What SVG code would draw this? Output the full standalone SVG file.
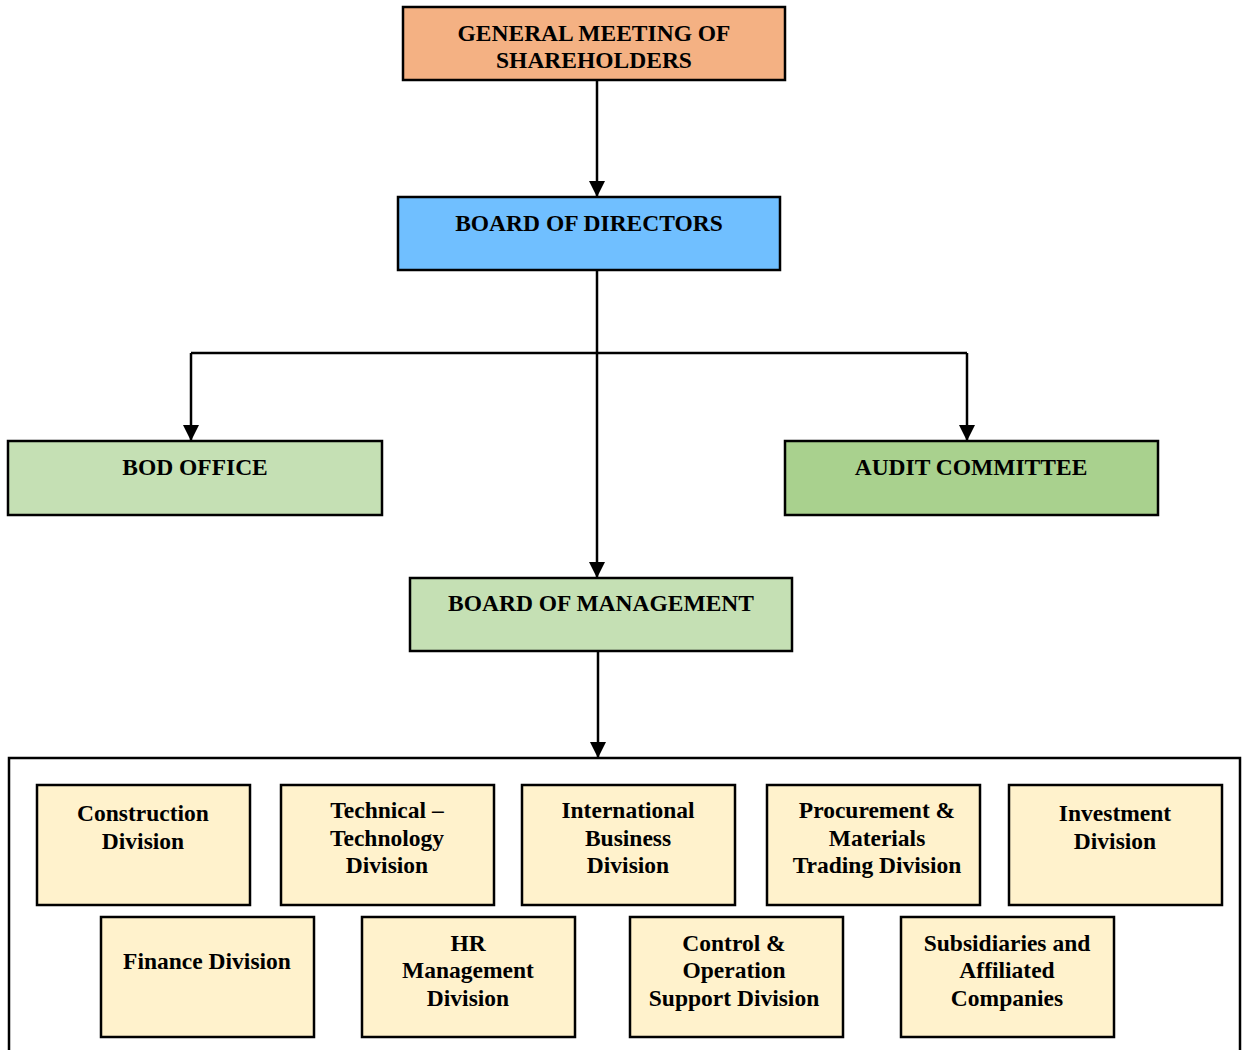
<svg xmlns="http://www.w3.org/2000/svg" width="1242" height="1050" viewBox="0 0 1242 1050">
<style>
.box{stroke:#000;stroke-width:2.5}
.t{font-family:'Liberation Serif','Times New Roman',Times,'DejaVu Serif',serif;font-weight:700;font-size:23.5px;fill:#000;text-anchor:middle}
.c{fill:none;stroke:#000;stroke-width:2.5}
.div{fill:#FFF2CC}
</style>
<defs>
<marker id="a2" viewBox="0 0 16 16" refX="16" refY="8" markerWidth="16" markerHeight="16" orient="auto" markerUnits="userSpaceOnUse">
<path d="M0,0 L16,8 L0,16 Z" fill="#000"/>
</marker>
</defs>
<rect x="0" y="0" width="1242" height="1050" fill="#fff"/>
<g id="connectors">
<path class="c" d="M597,80 V197" marker-end="url(#a2)"/>
<path class="c" d="M597,270 V353"/>
<path class="c" d="M191,353 H967"/>
<path class="c" d="M191,353 V441" marker-end="url(#a2)"/>
<path class="c" d="M967,353 V441" marker-end="url(#a2)"/>
<path class="c" d="M597,353 V578" marker-end="url(#a2)"/>
<path class="c" d="M598,651 V758" marker-end="url(#a2)"/>
</g>
<g id="gms"><rect class="box" x="403" y="7" width="382" height="73" fill="#F4B183"/>
<text class="t" x="594" y="41">GENERAL MEETING OF</text><text class="t" x="594" y="68">SHAREHOLDERS</text></g>
<g id="bod"><rect class="box" x="398" y="197" width="382" height="73" fill="#70BFFF"/>
<text class="t" x="589" y="231">BOARD OF DIRECTORS</text></g>
<g id="bodoffice"><rect class="box" x="8" y="441" width="374" height="74" fill="#C5E0B4"/>
<text class="t" x="195" y="475">BOD OFFICE</text></g>
<g id="audit"><rect class="box" x="785" y="441" width="373" height="74" fill="#A9D18E"/>
<text class="t" x="971" y="475">AUDIT COMMITTEE</text></g>
<g id="bom"><rect class="box" x="410" y="578" width="382" height="73" fill="#C5E0B4"/>
<text class="t" x="601" y="611">BOARD OF MANAGEMENT</text></g>
<g id="container"><rect x="9" y="758" width="1231" height="300" fill="none" stroke="#000" stroke-width="2.5"/></g>
<g id="construction"><rect class="box div" x="37" y="785" width="213" height="120"/>
<text class="t" x="143" y="821">Construction</text><text class="t" x="143" y="849">Division</text></g>
<g id="technical"><rect class="box div" x="281" y="785" width="213" height="120"/>
<text class="t" x="387" y="818">Technical –</text><text class="t" x="387" y="846">Technology</text><text class="t" x="387" y="873">Division</text></g>
<g id="international"><rect class="box div" x="522" y="785" width="213" height="120"/>
<text class="t" x="628" y="818">International</text><text class="t" x="628" y="846">Business</text><text class="t" x="628" y="873">Division</text></g>
<g id="procurement"><rect class="box div" x="767" y="785" width="213" height="120"/>
<text class="t" x="877" y="818">Procurement &amp;</text><text class="t" x="877" y="846">Materials</text><text class="t" x="877" y="873">Trading Division</text></g>
<g id="investment"><rect class="box div" x="1009" y="785" width="213" height="120"/>
<text class="t" x="1115" y="821">Investment</text><text class="t" x="1115" y="849">Division</text></g>
<g id="finance"><rect class="box div" x="101" y="917" width="213" height="120"/>
<text class="t" x="207" y="969">Finance Division</text></g>
<g id="hr"><rect class="box div" x="362" y="917" width="213" height="120"/>
<text class="t" x="468" y="951">HR</text><text class="t" x="468" y="978">Management</text><text class="t" x="468" y="1006">Division</text></g>
<g id="control"><rect class="box div" x="630" y="917" width="213" height="120"/>
<text class="t" x="734" y="951">Control &amp;</text><text class="t" x="734" y="978">Operation</text><text class="t" x="734" y="1006">Support Division</text></g>
<g id="subsidiaries"><rect class="box div" x="901" y="917" width="213" height="120"/>
<text class="t" x="1007" y="951">Subsidiaries and</text><text class="t" x="1007" y="978">Affiliated</text><text class="t" x="1007" y="1006">Companies</text></g>
</svg>
